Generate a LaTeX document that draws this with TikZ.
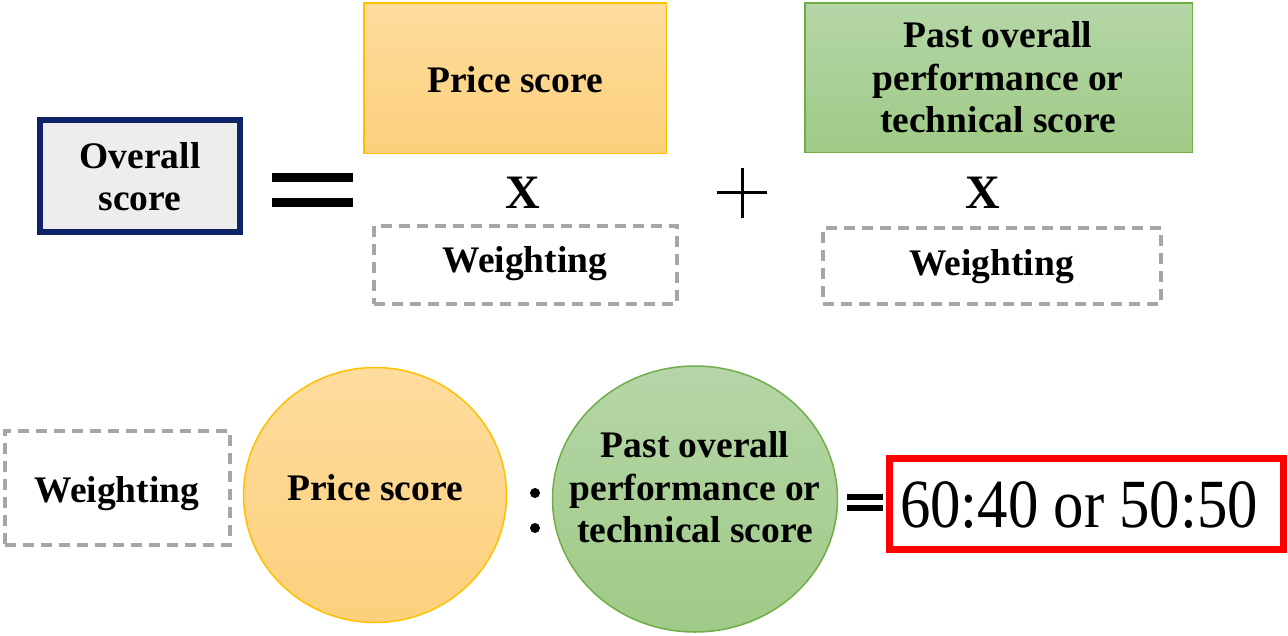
\documentclass[tikz,border=0pt]{standalone}
\usepackage{fontspec}
\setmainfont{Liberation Serif}
\usetikzlibrary{shapes.geometric}
\definecolor{navy}{HTML}{0E2466}
\definecolor{boxgray}{HTML}{EDEDED}
\definecolor{orgline}{HTML}{FFC000}
\definecolor{orgtop}{HTML}{FEDC9E}
\definecolor{orgbot}{HTML}{FCD07C}
\definecolor{grnline}{HTML}{70AD47}
\definecolor{grntop}{HTML}{B5D6A7}
\definecolor{grnbot}{HTML}{9FCA86}
\definecolor{dashgray}{HTML}{A6A6A6}
\definecolor{redline}{HTML}{FF0000}
\tikzset{
  shp/.style={inner sep=0, outer sep=0},
  wbox/.style={shp, draw=dashgray, line width=4, dash pattern=on 11pt off 7pt},
  orgfill/.style={shp, draw=orgline, line width=1.5, top color=orgtop, bottom color=orgbot},
  grnfill/.style={shp, draw=grnline, line width=1.5, top color=grntop, bottom color=grnbot},
  lbl/.style={inner sep=0, anchor=base, font=\fontsize{37.5}{42}\selectfont\bfseries},
  bigx/.style={inner sep=0, anchor=base, font=\fontsize{48}{52}\selectfont\bfseries},
  bar/.style={line width=8.5, line cap=butt},
  thinbar/.style={line width=6, line cap=butt},
  plusbar/.style={line width=3, line cap=butt},
}
\begin{document}
\begin{tikzpicture}[x=1pt,y=-1pt]
\useasboundingbox (0,0) rectangle (1288,635);
% Overall score
\node[shp, draw=navy, fill=boxgray, line width=6, minimum width=200, minimum height=112] (overall) at (140,176) {};
\node[lbl] (ov1) at (140,168) {Overall};
\node[lbl] (ov2) at (140,210) {score};
% big equals
\draw[bar] (272,177.5) -- (353,177.5);
\draw[bar] (272,202.5) -- (353,202.5);
% price score box
\node[orgfill, minimum width=302.5, minimum height=150.5] (price) at (515,78) {};
\node[lbl] (pricet) at (515,92) {Price score};
\node[bigx] (x1) at (522.5,208) {X};
\node[wbox, minimum width=303, minimum height=78] (w1) at (525.5,265) {};
\node[lbl] (w1t) at (525,272) {Weighting};
% plus
\draw[plusbar] (717,192) -- (767,192);
\draw[plusbar] (742,168) -- (742,218);
% technical score box
\node[grnfill, minimum width=387.5, minimum height=149.5] (tech) at (998.5,77.5) {};
\node[lbl] (tech1) at (998,47) {Past overall};
\node[lbl] (tech2) at (998,90) {performance or};
\node[lbl] (tech3) at (998,132) {technical score};
\node[bigx] (x2) at (982.5,208) {X};
\node[wbox, minimum width=338, minimum height=76] (w2) at (992,266) {};
\node[lbl] (w2t) at (991.5,275) {Weighting};
% bottom row
\node[wbox, minimum width=225, minimum height=114] (w3) at (117.5,488) {};
\node[lbl] (w3t) at (117,502) {Weighting};
\node[orgfill, ellipse, minimum width=263, minimum height=255] (pc) at (375,495) {};
\node[lbl] (pct) at (375,500) {Price score};
\fill (535,493) circle (5);
\fill (535,528) circle (5);
\node[grnfill, ellipse, minimum width=285, minimum height=266] (tc) at (695,499) {};
\node[lbl] (tc1) at (695,457) {Past overall};
\node[lbl] (tc2) at (695,500) {performance or};
\node[lbl] (tc3) at (695,542) {technical score};
\draw[thinbar] (847,497) -- (883,497);
\draw[thinbar] (847,508) -- (883,508);
\node[shp, draw=redline, line width=7, minimum width=394, minimum height=91] (ratio) at (1086.5,504) {};
\node[inner sep=0, anchor=base, font=\fontsize{69}{74}\selectfont] (ratiot) at (1079,527) {\scalebox{0.88}[1]{60:40 or 50:50}};
\end{tikzpicture}
\end{document}
